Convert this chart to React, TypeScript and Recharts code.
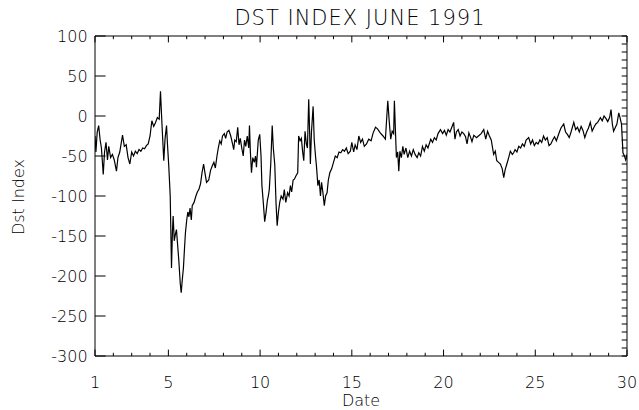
import React from "react";
import { LineChart, Line, XAxis, YAxis } from "recharts";

// Dst index, June 1991 (roughly every 2-3 hours)
const days = [
  1.0, 1.05, 1.12, 1.2, 1.28, 1.35, 1.45, 1.52, 1.6, 1.68, 1.75, 1.85, 1.95,
  2.05, 2.17, 2.25, 2.35, 2.5, 2.6, 2.7, 2.8, 2.9, 3.0, 3.1, 3.2, 3.3, 3.4, 3.5,
  3.6, 3.7, 3.8, 3.9, 4.0, 4.1, 4.2, 4.3, 4.4, 4.5, 4.57, 4.65, 4.7, 4.75, 4.82,
  4.9, 4.95, 5.02, 5.1, 5.17, 5.22, 5.26, 5.32, 5.38, 5.44, 5.5, 5.57, 5.65, 5.7,
  5.76, 5.82, 5.88, 5.93, 6.0, 6.06, 6.12, 6.18, 6.25, 6.3, 6.4, 6.5, 6.58, 6.66,
  6.75, 6.84, 6.92, 7.0, 7.08, 7.2, 7.3, 7.4, 7.48, 7.56, 7.65, 7.72, 7.8, 7.88,
  7.95, 8.05, 8.12, 8.2, 8.3, 8.4, 8.5, 8.56, 8.62, 8.7, 8.78, 8.85, 8.92, 9.0,
  9.08, 9.15, 9.22, 9.3, 9.38, 9.42, 9.47, 9.53, 9.6, 9.68, 9.75, 9.8, 9.9, 9.98,
  10.05, 10.1, 10.18, 10.25, 10.32, 10.4, 10.45, 10.5, 10.58, 10.66, 10.72, 10.8,
  10.87, 10.93, 11.0, 11.07, 11.15, 11.25, 11.32, 11.4, 11.5, 11.58, 11.65, 11.72,
  11.8, 11.87, 11.95, 12.05, 12.1, 12.18, 12.25, 12.32, 12.38, 12.45, 12.52, 12.58,
  12.65, 12.7, 12.74, 12.8, 12.89, 12.95, 13.02, 13.07, 13.15, 13.22, 13.29, 13.35,
  13.42, 13.5, 13.57, 13.65, 13.72, 13.8, 13.9, 14.0, 14.1, 14.2, 14.3, 14.4, 14.5,
  14.6, 14.7, 14.8, 14.92, 15.0, 15.1, 15.18, 15.28, 15.38, 15.48, 15.58, 15.68,
  15.8, 15.92, 16.05, 16.15, 16.29, 16.4, 16.55, 16.7, 16.83, 16.96, 17.05, 17.12,
  17.2, 17.28, 17.32, 17.38, 17.43, 17.5, 17.56, 17.62, 17.7, 17.78, 17.85, 17.95,
  18.05, 18.15, 18.25, 18.35, 18.45, 18.56, 18.65, 18.75, 18.85, 18.95, 19.05,
  19.15, 19.3, 19.4, 19.5, 19.6, 19.7, 19.83, 19.95, 20.05, 20.15, 20.25, 20.35,
  20.45, 20.55, 20.62, 20.7, 20.8, 20.9, 21.0, 21.1, 21.2, 21.28, 21.38, 21.48,
  21.55, 21.65, 21.8, 21.9, 22.05, 22.19, 22.3, 22.4, 22.5, 22.6, 22.73, 22.82,
  22.9, 23.0, 23.1, 23.2, 23.28, 23.36, 23.45, 23.55, 23.64, 23.75, 23.82, 23.9,
  24.0, 24.1, 24.2, 24.3, 24.4, 24.5, 24.64, 24.75, 24.85, 24.95, 25.05, 25.15,
  25.25, 25.35, 25.45, 25.55, 25.65, 25.75, 25.85, 25.95, 26.05, 26.15, 26.3, 26.4,
  26.55, 26.65, 26.75, 26.85, 26.95, 27.1, 27.2, 27.3, 27.4, 27.5, 27.6, 27.7, 27.8,
  27.9, 28.0, 28.1, 28.2, 28.3, 28.4, 28.5, 28.55, 28.65, 28.75, 28.85, 28.95,
  29.05, 29.13, 29.2, 29.27, 29.35, 29.45, 29.55, 29.62, 29.7, 29.78, 29.86, 29.93,
  29.97, 30.0,
];

const dst = [
  -25, -45, -20, -12, -30, -40, -73, -45, -33, -55, -38, -52, -48,
  -55, -69, -52, -45, -24, -38, -36, -52, -60, -45, -50, -44, -47, -42, -44,
  -40, -41, -37, -35, -25, -6, -13, -8, -2, -4, 31, -10, -33, -56, -28,
  -12, -35, -62, -100, -190, -145, -125, -156, -148, -142, -160, -181, -210, -221,
  -204, -190, -165, -146, -130, -120, -126, -115, -130, -112, -108, -100, -95, -92,
  -85, -70, -60, -72, -83, -80, -68, -62, -58, -65, -50, -40, -31, -35,
  -25, -22, -28, -20, -18, -25, -35, -42, -30, -32, -14, -36, -28, -40,
  -50, -30, -38, -25, -40, -12, -45, -71, -52, -58, -50, -64, -30, -23,
  -50, -87, -110, -132, -121, -105, -100, -92, -60, -12, -40, -61,
  -110, -137, -120, -108, -100, -104, -92, -108, -96, -100, -87, -95,
  -80, -79, -75, -71, -25, -31, -28, -45, -56, -19, -35, -40,
  21, -20, -60, -20, 12, -30, -50, -62, -87, -80, -100, -83,
  -95, -112, -100, -96, -80, -71, -66, -58, -50, -52, -45, -46, -42,
  -44, -40, -47, -44, -33, -45, -36, -42, -25, -33, -29, -38,
  -35, -29, -31, -22, -14, -16, -21, -25, -29, 19, -10, -29,
  -19, -22, 19, -20, -52, -45, -69, -44, -52, -38, -48, -40,
  -52, -44, -50, -42, -48, -52, -46, -50, -38, -44, -36,
  -40, -29, -33, -27, -30, -22, -17, -22, -18, -24, -17, -20,
  -14, -8, -29, -20, -17, -25, -20, -22, -26, -35, -21, -27,
  -32, -24, -27, -25, -22, -17, -29, -19, -25, -30, -48, -44,
  -56, -58, -60, -66, -77, -67, -60, -52, -44, -48, -46, -42,
  -45, -38, -40, -35, -38, -30, -27, -35, -30, -37, -33, -35,
  -30, -33, -25, -30, -27, -37, -35, -30, -26, -31, -21, -15,
  -10, -20, -23, -27, -20, -8, -17, -14, -20, -13, -18, -27, -20,
  -15, -8, -19, -14, -10, -8, -4, -2, -6, 0, -3, -7,
  -2, 8, -10, -19, -15, -10, 4, -2, -10, -46, -50, -55,
  -52, -48,
];

const majorDays = [1, 5, 10, 15, 20, 25, 30];
const allDays = Array.from({ length: 30 }, (_, i) => i + 1);
const yTicks = [-300, -250, -200, -150, -100, -50, 0, 50, 100];
const rightTicks = Array.from({ length: 41 }, (_, i) => -300 + i * 10);

const data = days.map((d, i) => ({ day: d, dst: dst[i] }));

const W = 639;
const H = 410;
const MARGIN = { top: 36, right: 12, left: 0, bottom: 14 };
const X0 = 95;
const PW = W - MARGIN.right - X0;
const PH = H - MARGIN.top - MARGIN.bottom - 40;
const dayX = (d: number) => X0 + ((d - 1) / 29) * PW;
const dstY = (v: number) => MARGIN.top + ((100 - v) / 400) * PH;

const FONT = "'DejaVu Sans', sans-serif";
const tickFont = { fill: "#000", fontSize: 16, fontFamily: FONT, fontWeight: 300 };
const ax = { stroke: "#000", strokeWidth: 1 };

// bottom axis tick: long at 1,5,10..., short otherwise, pointing into the plot
const DayTick = ({ x, y, payload }: any) => {
  const major = majorDays.includes(payload.value);
  const len = major ? 6.4 : 3.2;
  return (
    <g>
      <line x1={x} y1={y} x2={x} y2={y - len} stroke="#000" strokeWidth={1} />
      {major && (
        <text x={x} y={y + 21} dy="0.71em" textAnchor="middle" {...tickFont}>{payload.value}</text>
      )}
    </g>
  );
};

// box edges on top and right (mirror of the bottom axis, 10-unit ticks on the right)
const BoxEdges = () => (
  <g stroke="#000" strokeWidth={1}>
    <line x1={X0} y1={MARGIN.top} x2={X0 + PW} y2={MARGIN.top} />
    <line x1={X0 + PW} y1={MARGIN.top} x2={X0 + PW} y2={MARGIN.top + PH} />
    {allDays.map((d) => (
      <line key={`t${d}`} x1={dayX(d)} y1={MARGIN.top} x2={dayX(d)}
        y2={MARGIN.top + (majorDays.includes(d) ? 6.4 : 3.2)} />
    ))}
    {rightTicks.map((v) => (
      <line key={`r${v}`} x1={X0 + PW} y1={dstY(v)} x2={X0 + PW - 5.3} y2={dstY(v)} />
    ))}
  </g>
);

export default function App() {
  return (
    <div style={{ position: "absolute", left: 0, top: 0, width: W, height: H, background: "#fff" }}>
      <LineChart width={W} height={H} data={data} margin={MARGIN}>
        <XAxis dataKey="day" type="number" domain={[1, 30]} ticks={allDays} interval={0}
          height={40} tickSize={0} tickMargin={0} tickLine={false}
          tick={<DayTick />} axisLine={ax} allowDataOverflow />
        <YAxis type="number" domain={[-300, 100]} ticks={yTicks} interval={0}
          width={X0} tickSize={-10.6} tickMargin={18} tick={tickFont}
          axisLine={ax} tickLine={ax} allowDataOverflow />
        <Line type="linear" dataKey="dst" stroke="#000" strokeWidth={1.2}
          dot={false} isAnimationActive={false} />
      </LineChart>
      <svg width={W} height={H} style={{ position: "absolute", left: 0, top: 0, pointerEvents: "none" }}>
        <BoxEdges />
        <text x={360} y={25} textAnchor="middle" fontFamily={FONT} fontSize={21} fontWeight={300}
          letterSpacing={1} fill="#000">DST INDEX JUNE 1991</text>
        <text x={361} y={406} textAnchor="middle" fontFamily={FONT} fontSize={16} fontWeight={300}
          fill="#000">Date</text>
        <text x={0} y={0} transform="translate(24,197) rotate(-90)" textAnchor="middle" fontFamily={FONT}
          fontSize={16} fontWeight={300} fill="#000">Dst Index</text>
      </svg>
    </div>
  );
}
